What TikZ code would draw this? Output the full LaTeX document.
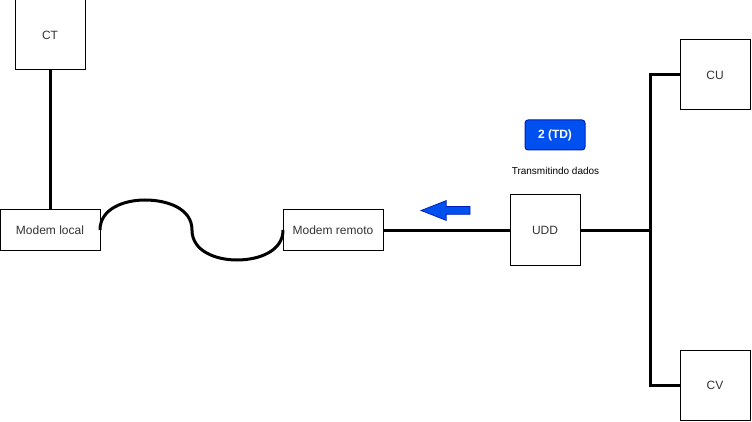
\documentclass[tikz,border=0pt]{standalone}
\usepackage{fontspec}
\setmainfont{Liberation Sans}
\usetikzlibrary{shapes.arrows}
\definecolor{blfill}{HTML}{0050EF}
\definecolor{bldraw}{HTML}{001DBC}
\definecolor{txt}{HTML}{333333}

\begin{document}
\begin{tikzpicture}[x=1pt,y=-1pt,
	box/.style={draw,line width=1pt,inner sep=0,outer sep=0,font=\fontsize{12}{14}\selectfont,text=txt},
	wire/.style={line width=3pt}]
	\useasboundingbox (0,0) rectangle (752,422);
	\node[box,minimum width=70pt,minimum height=70pt] (ct) at (50,35) {CT};
	\node[box,minimum width=100pt,minimum height=40pt] (ml) at (50,230) {Modem local};
	\node[box,minimum width=100pt,minimum height=40pt] (mr) at (333,230) {Modem remoto};
	\node[box,minimum width=70pt,minimum height=70pt] (udd) at (545,230) {UDD};
	\node[box,minimum width=70pt,minimum height=70pt] (cu) at (715,75) {CU};
	\node[box,minimum width=70pt,minimum height=70pt] (cv) at (715,385) {CV};
	\node[draw=bldraw,fill=blfill,rounded corners=3pt,line width=1pt,inner sep=0,
		minimum width=60pt,minimum height=30pt,text=white,font=\bfseries\fontsize{12}{14}\selectfont] (td) at (555,135) {2 (TD)};
	\node[font=\fontsize{10}{12}\selectfont,text=black] (tdlbl) at (555.5,171) {Transmitindo dados};
	\node[single arrow,draw=bldraw,fill=blfill,line width=0.75pt,shape border rotate=180,
		inner xsep=0,inner ysep=3.5pt,minimum height=49pt,single arrow head extend=6pt,
		single arrow tip angle=43] (dir) at (450.5,210.5) {};
	\coordinate (bus) at (650,230);
	\draw[wire] (ct) -- (ml);
	\draw[wire] (ml.east) to[out=90,in=180] (145,200) to[out=0,in=90] (192,230)
		to[out=-90,in=180] (237,260) to[out=0,in=-90] (mr.west);
	\draw[wire] (mr) -- (udd);
	\draw[wire] (udd) -- (bus);
	\draw[wire] (cu.west) -| (bus) |- (cv.west);
\end{tikzpicture}
\end{document}
